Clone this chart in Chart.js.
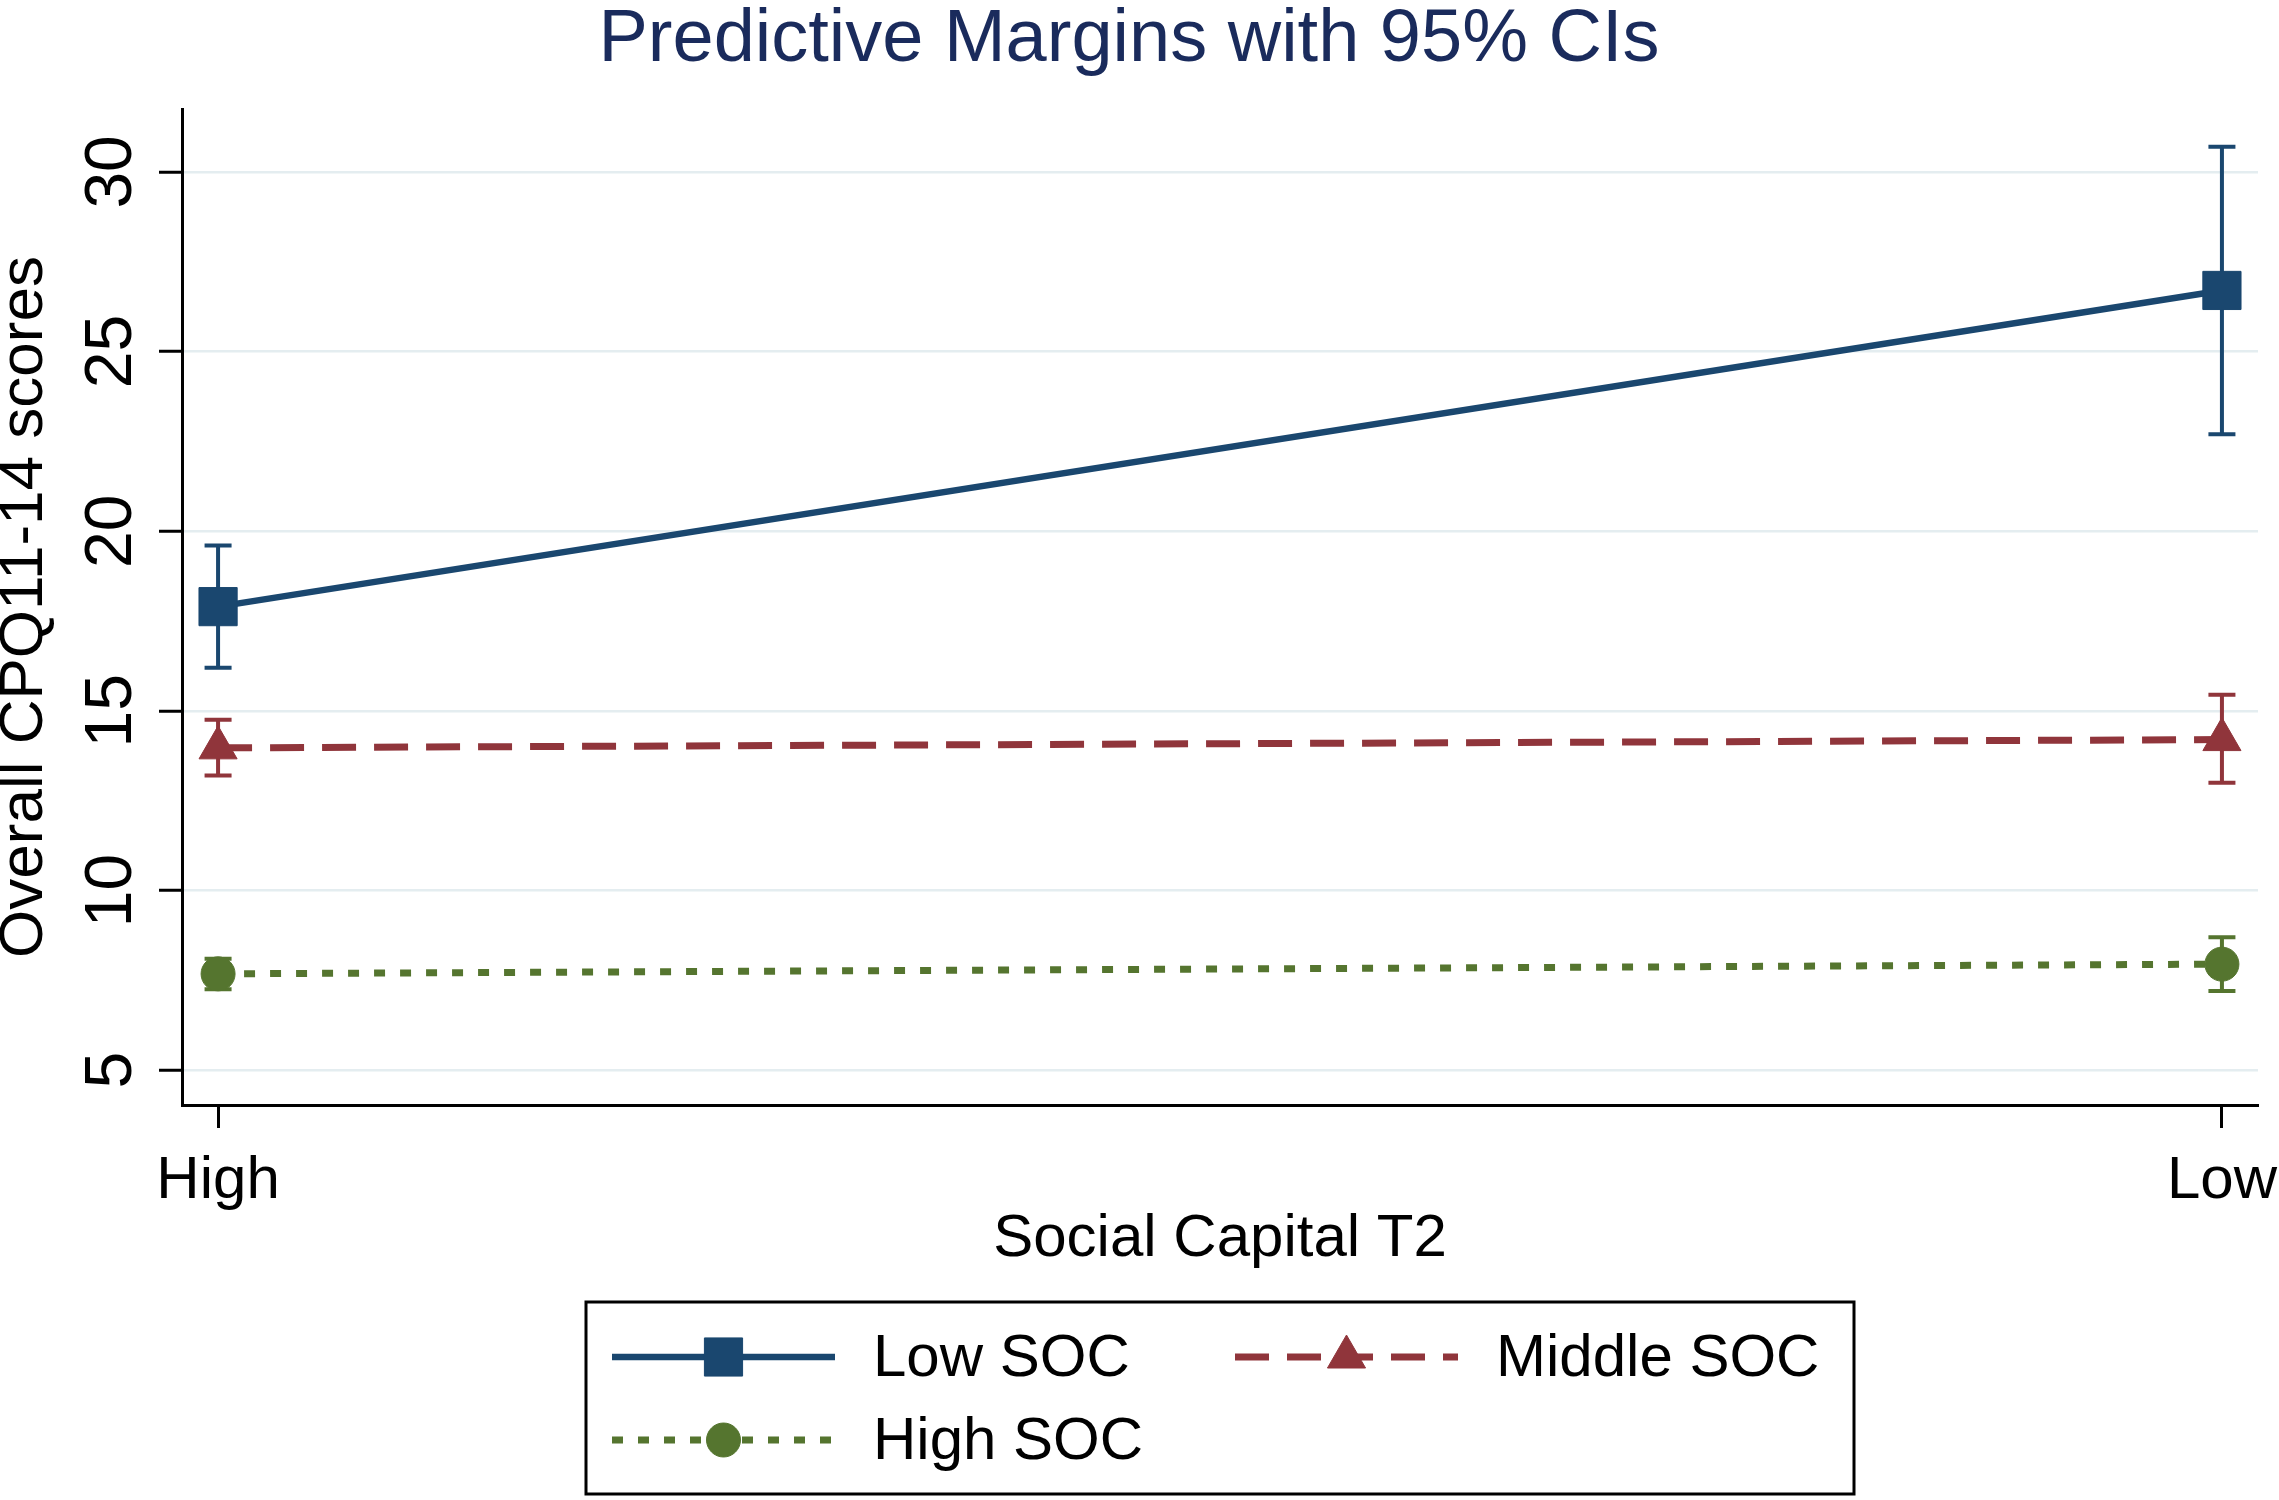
<!DOCTYPE html>
<html>
<head>
<meta charset="utf-8">
<script src="https://cdn.jsdelivr.net/npm/chart.js@4.4.1/dist/chart.umd.min.js"></script>
<style>
  html, body { margin: 0; padding: 0; background: #ffffff; }
  canvas { display: block; }
</style>
</head>
<body>
<canvas id="c" width="2279" height="1500"></canvas>
<script>
// ---- data ----
const categories = ['High', 'Low'];
const seriesNames = ['Low SOC', 'Middle SOC', 'High SOC'];
const lowSOC = [17.9, 26.7];
const lowSOCLower = [16.2, 22.7];
const lowSOCUpper = [19.6, 30.7];
const middleSOC = [13.97, 14.2];
const middleSOCLower = [13.2, 13.0];
const middleSOCUpper = [14.75, 15.45];
const highSOC = [7.68, 7.95];
const highSOCLower = [7.25, 7.2];
const highSOCUpper = [8.1, 8.7];
const yTickValues = [5, 10, 15, 20, 25, 30];

const FONT = "'Liberation Sans', Arial, Helvetica, sans-serif";
const toPoints = arr => arr.map((v, i) => ({ x: i, y: v }));

const errorBars = [
  { lower: lowSOCLower, upper: lowSOCUpper },
  { lower: middleSOCLower, upper: middleSOCUpper },
  { lower: highSOCLower, upper: highSOCUpper }
];

const errorBarPlugin = {
  id: 'errorBars',
  beforeDatasetsDraw(chart) {
    const ctx = chart.ctx;
    const xs = chart.scales.x, ys = chart.scales.y;
    chart.data.datasets.forEach((ds, di) => {
      const eb = errorBars[di];
      ctx.save();
      ctx.strokeStyle = ds.borderColor;
      ctx.lineWidth = 4;
      ctx.setLineDash([]);
      eb.lower.forEach((lo, j) => {
        const x = xs.getPixelForValue(j);
        const y1 = ys.getPixelForValue(lo);
        const y2 = ys.getPixelForValue(eb.upper[j]);
        const cap = 13.5;
        ctx.beginPath();
        ctx.moveTo(x, y1); ctx.lineTo(x, y2);
        ctx.moveTo(x - cap, y1); ctx.lineTo(x + cap, y1);
        ctx.moveTo(x - cap, y2); ctx.lineTo(x + cap, y2);
        ctx.stroke();
      });
      ctx.restore();
    });
  }
};

const legendPlugin = {
  id: 'boxLegend',
  afterDraw(chart) {
    const ctx = chart.ctx;
    const box = { x: 586, y: 1302, w: 1268, h: 192 };
    ctx.save();
    ctx.strokeStyle = '#000';
    ctx.lineWidth = 3;
    ctx.setLineDash([]);
    ctx.strokeRect(box.x, box.y, box.w, box.h);
    const slots = [
      { x: 612, y: 1357 },
      { x: 1235, y: 1357 },
      { x: 612, y: 1440 }
    ];
    const lineLen = 223;
    chart.data.datasets.forEach((ds, i) => {
      const s = slots[i];
      ctx.save();
      ctx.strokeStyle = ds.borderColor;
      ctx.lineWidth = ds.borderWidth;
      ctx.setLineDash(ds.borderDash || []);
      ctx.beginPath();
      ctx.moveTo(s.x, s.y);
      ctx.lineTo(s.x + lineLen, s.y);
      ctx.stroke();
      ctx.setLineDash([]);
      ctx.fillStyle = ds.pointBackgroundColor;
      ctx.strokeStyle = ds.pointBorderColor;
      ctx.lineWidth = 1;
      Chart.helpers.drawPoint(ctx, { pointStyle: ds.pointStyle, rotation: 0, radius: ds.pointRadius, borderWidth: 1 }, s.x + lineLen / 2, s.y);
      ctx.restore();
      ctx.fillStyle = '#000';
      ctx.font = '60px ' + FONT;
      ctx.textAlign = 'left';
      ctx.textBaseline = 'middle';
      ctx.fillText(ds.label, s.x + 261, s.y + 2);
    });
    ctx.restore();
  }
};

const chart = new Chart(document.getElementById('c'), {
  type: 'line',
  data: {
    datasets: [
      {
        label: seriesNames[0],
        data: toPoints(lowSOC),
        borderColor: '#1a476f',
        backgroundColor: '#1a476f',
        pointBackgroundColor: '#1a476f',
        pointBorderColor: '#1a476f',
        borderWidth: 6.5,
        borderDash: [],
        pointStyle: 'rect',
        pointRadius: 27,
        pointHoverRadius: 27,
        pointBorderWidth: 1
      },
      {
        label: seriesNames[1],
        data: toPoints(middleSOC),
        borderColor: '#90353b',
        backgroundColor: '#90353b',
        pointBackgroundColor: '#90353b',
        pointBorderColor: '#90353b',
        borderWidth: 7,
        borderDash: [34, 18],
        pointStyle: 'triangle',
        pointRadius: 22,
        pointHoverRadius: 22,
        pointBorderWidth: 1
      },
      {
        label: seriesNames[2],
        data: toPoints(highSOC),
        borderColor: '#55752f',
        backgroundColor: '#55752f',
        pointBackgroundColor: '#55752f',
        pointBorderColor: '#55752f',
        borderWidth: 7,
        borderDash: [11, 15],
        pointStyle: 'circle',
        pointRadius: 17,
        pointHoverRadius: 17,
        pointBorderWidth: 1
      }
    ]
  },
  options: {
    responsive: false,
    animation: false,
    devicePixelRatio: 1,
    events: [],
    layout: { autoPadding: false, padding: { left: 0, right: 21, top: 0, bottom: 225 } },
    elements: { line: { tension: 0, fill: false } },
    plugins: {
      legend: { display: false },
      tooltip: { enabled: false },
      title: {
        display: true,
        text: 'Predictive Margins with 95% CIs',
        color: '#1a2b5c',
        font: { family: FONT, size: 74, weight: 'normal', lineHeight: 1 },
        padding: { top: 4, bottom: 31 }
      }
    },
    scales: {
      x: {
        type: 'linear',
        min: -0.018,
        max: 1.018,
        afterBuildTicks: s => { s.ticks = categories.map((c, i) => ({ value: i })); },
        afterFit: s => { s.height = 170; s.paddingLeft = 0; s.paddingRight = 0; },
        ticks: {
          callback: v => categories[v],
          color: '#000',
          font: { family: FONT, size: 60, lineHeight: 1.2 },
          padding: 17,
          maxRotation: 0,
          minRotation: 0,
          autoSkip: false
        },
        grid: {
          drawOnChartArea: false,
          drawTicks: true,
          tickLength: 23,
          tickWidth: 3,
          tickColor: '#000'
        },
        border: { display: true, color: '#000', width: 3 },
        title: {
          display: true,
          text: 'Social Capital T2',
          color: '#000',
          font: { family: FONT, size: 60, lineHeight: 1.2 },
          padding: { top: 0, bottom: 0 }
        }
      },
      y: {
        type: 'linear',
        min: 4.03,
        max: 31.75,
        afterBuildTicks: s => { s.ticks = yTickValues.map(v => ({ value: v })); },
        afterFit: s => { s.width = 182; s.paddingTop = 0; s.paddingBottom = 0; },
        ticks: {
          color: '#000',
          font: { family: FONT, size: 66, lineHeight: 1.2 },
          minRotation: 90,
          maxRotation: 90,
          crossAlign: 'center',
          padding: 9,
          autoSkip: false
        },
        grid: {
          color: '#e4edf0',
          lineWidth: 2.5,
          drawTicks: true,
          tickLength: 23,
          tickWidth: 3,
          tickColor: '#000'
        },
        border: { display: true, color: '#000', width: 3 },
        title: {
          display: true,
          text: 'Overall CPQ11-14 scores',
          color: '#000',
          font: { family: FONT, size: 62, lineHeight: 0.8 },
          padding: { top: 0, bottom: 0 }
        }
      }
    }
  },
  plugins: [errorBarPlugin, legendPlugin]
});
</script>
</body>
</html>
